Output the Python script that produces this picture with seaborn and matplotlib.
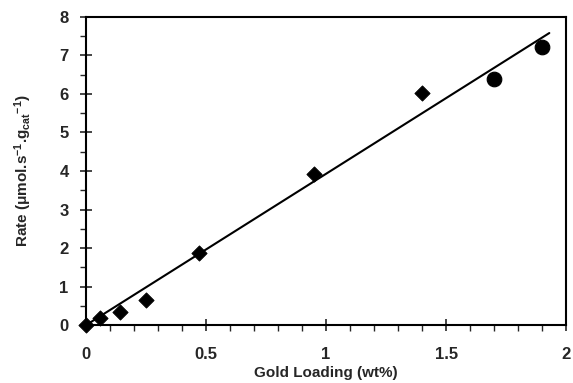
import pandas as pd
import matplotlib.pyplot as plt
import seaborn as sns
from matplotlib.ticker import MultipleLocator

# diamonds
loading_d = [0.0, 0.06, 0.14, 0.25, 0.47, 0.95, 1.40]
rate_d = [0.0, 0.18, 0.35, 0.65, 1.86, 3.92, 6.03]
# circles
loading_c = [1.70, 1.90]
rate_c = [6.38, 7.23]
# fitted line ends
fit_x = [0.0, 1.93]
fit_y = [0.0, 7.58]

df_d = pd.DataFrame({"x": loading_d, "y": rate_d})
df_c = pd.DataFrame({"x": loading_c, "y": rate_c})
df_fit = pd.DataFrame({"x": fit_x, "y": fit_y})

sns.set_style("ticks")
plt.rcParams['font.family'] = ['Liberation Sans', 'DejaVu Sans']
plt.rcParams['mathtext.fontset'] = 'custom'
plt.rcParams['mathtext.rm'] = 'Liberation Sans:bold'
plt.rcParams['mathtext.it'] = 'Liberation Sans:bold'
plt.rcParams['mathtext.bf'] = 'Liberation Sans:bold'

fig = plt.figure(figsize=(5.73, 3.83), dpi=100)
ax = fig.add_axes([0.150, 0.151, 0.838, 0.805])

sns.lineplot(data=df_fit, x="x", y="y", ax=ax, color="black", linewidth=1.5)
sns.scatterplot(data=df_d, x="x", y="y", ax=ax, marker="D", s=60,
                color="black", edgecolor="black", zorder=3, clip_on=False)
sns.scatterplot(data=df_c, x="x", y="y", ax=ax, marker="o", s=110,
                color="black", edgecolor="black", zorder=3)

ax.set_xlim(0, 2)
ax.set_ylim(0, 8)
ax.xaxis.set_major_locator(MultipleLocator(0.5))
ax.xaxis.set_minor_locator(MultipleLocator(0.1))
ax.yaxis.set_major_locator(MultipleLocator(1))
ax.yaxis.set_minor_locator(MultipleLocator(0.5))
ax.set_xticks([0, 0.5, 1, 1.5, 2])
ax.set_xticklabels(["0", "0.5", "1", "1.5", "2"])

ax.tick_params(which="major", direction="inout", length=9, width=1.2,
               labelsize=12, pad=8)
ax.tick_params(axis="x", which="major", pad=11)
ax.tick_params(which="minor", direction="out", length=4, width=1)
for lab in ax.get_xticklabels() + ax.get_yticklabels():
    lab.set_fontweight("bold")

for sp in ax.spines.values():
    sp.set_linewidth(1.5)
    sp.set_color("black")

ax.set_xlabel("Gold Loading (wt%)", fontsize=11, fontweight="bold", labelpad=3)
ax.set_ylabel(r"Rate ($\mathrm{\mu}$mol.s$^{-1}$.g$_{cat}$$^{-1}$)",
              fontsize=11, fontweight="bold", labelpad=18)

fig.savefig("out.png", dpi=100)
